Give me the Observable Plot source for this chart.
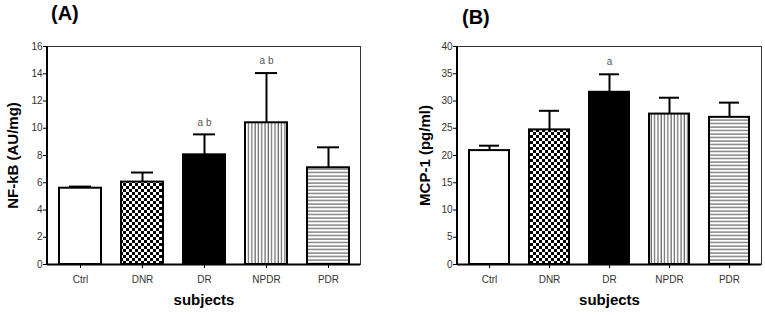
<!DOCTYPE html>
<html>
<head>
<meta charset="utf-8">
<script src="https://cdn.jsdelivr.net/npm/d3@7"></script>
<script src="https://cdn.jsdelivr.net/npm/@observablehq/plot@0.6"></script>
<style>
  body { margin: 0; background: #fff; }
  #wrap { position: relative; width: 765px; height: 315px; font-family: "Liberation Sans", Arial, sans-serif; }
  .panel { position: absolute; top: 0; z-index: 0; }
  .title { position: absolute; z-index: 2; font-weight: bold; font-size: 20px; font-family: "Liberation Sans", Arial, sans-serif; }
  svg g[aria-label="y-axis label"] text { font-weight: bold; font-size: 15px; fill: #000; }
  svg g[aria-label="x-axis label"] text { font-weight: bold; font-size: 15px; fill: #000; }
  svg g[aria-label="y-axis tick label"] text, svg g[aria-label="x-axis tick label"] text { fill: #333; }
</style>
</head>
<body>
<div id="wrap">
  <div class="title" style="left:51px; top:2px;">(A)</div>
  <div class="title" style="left:462px; top:6px;">(B)</div>
</div>
<script>
const categories = ["Ctrl", "DNR", "DR", "NPDR", "PDR"];
const fills = ["white", "checker", "black", "vlines", "hlines"];

const nfkbMean = [5.6, 6.05, 8.05, 10.4, 7.1];
const nfkbErr  = [0.12, 0.7, 1.5, 3.65, 1.5];
const nfkbSig  = ["", "", "a b", "a b", ""];
const nfkbTicks = [0, 2, 4, 6, 8, 10, 12, 14, 16];

const mcpMean = [20.9, 24.7, 31.6, 27.6, 27.0];
const mcpErr  = [0.9, 3.5, 3.3, 3.0, 2.7];
const mcpSig  = ["", "", "a", "", ""];
const mcpTicks = [0, 5, 10, 15, 20, 25, 30, 35, 40];

function addPatterns(svg, pre) {
  const defs = d3.select(svg).insert("defs", ":first-child");
  const c = defs.append("pattern").attr("id", pre + "checker").attr("patternUnits", "userSpaceOnUse")
    .attr("width", 6).attr("height", 6);
  c.append("rect").attr("width", 6).attr("height", 6).attr("fill", "white");
  c.append("rect").attr("width", 3).attr("height", 3).attr("fill", "black");
  c.append("rect").attr("x", 3).attr("y", 3).attr("width", 3).attr("height", 3).attr("fill", "black");
  const v = defs.append("pattern").attr("id", pre + "vlines").attr("patternUnits", "userSpaceOnUse")
    .attr("width", 3.3).attr("height", 10);
  v.append("rect").attr("width", 3.3).attr("height", 10).attr("fill", "white");
  v.append("line").attr("x1", 1).attr("x2", 1).attr("y1", 0).attr("y2", 10).attr("stroke", "#333").attr("stroke-width", 0.9);
  const h = defs.append("pattern").attr("id", pre + "hlines").attr("patternUnits", "userSpaceOnUse")
    .attr("width", 10).attr("height", 3.5);
  h.append("rect").attr("width", 10).attr("height", 3.5).attr("fill", "white");
  h.append("line").attr("y1", 1).attr("y2", 1).attr("x1", 0).attr("x2", 10).attr("stroke", "#333").attr("stroke-width", 0.9);
}

function panel(pre, means, errs, sigs, ticks, ylabel, opts) {
  const data = categories.map((c, i) => ({
    cat: c, mean: means[i], top: means[i] + errs[i], sig: sigs[i],
    fill: (fills[i] === "white" || fills[i] === "black") ? fills[i] : `url(#${pre}${fills[i]})`
  }));
  const chart = Plot.plot({
    width: 382, height: 315,
    marginTop: 46, marginBottom: 51, marginLeft: opts.ml, marginRight: opts.mr,
    style: { fontFamily: "Liberation Sans, Arial, sans-serif", fontSize: "10px", background: "transparent" },
    x: { domain: categories, paddingInner: 0.33, paddingOuter: 0.17, label: null },
    y: { domain: [0, ticks[ticks.length - 1]], label: null },
    marks: [
      Plot.frame({ stroke: "#333", strokeWidth: 1 }),
      Plot.ruleX(data, { x: "cat", y1: "mean", y2: "top", stroke: "black", strokeWidth: 2 }),
      Plot.tickY(data, { x: "cat", y: "top", stroke: "black", strokeWidth: 2, insetLeft: 10, insetRight: 10 }),
      Plot.barY(data, { x: "cat", y: "mean", fill: "fill", stroke: "black", strokeWidth: 2 }),
      Plot.text(data, { x: "cat", y: "top", text: "sig", dy: -12, fill: "#555", fontSize: 10 }),
      Plot.ruleY([0], { stroke: "black", strokeWidth: 2 }),
      Plot.axisY({ ticks: ticks, tickSize: 4, tickPadding: 1, label: ylabel, labelAnchor: "center", labelOffset: opts.lo, labelArrow: "none" }),
      Plot.axisX({ tickSize: 4, tickPadding: 7, label: "subjects", labelAnchor: "center", labelOffset: 40, labelArrow: "none" })
    ]
  });
  chart.classList.add("panel");
  chart.style.left = opts.left + "px";
  addPatterns(chart, pre);
  const yr = chart.scale("y").range;
  d3.select(chart).append("line")
    .attr("x1", opts.ml).attr("x2", opts.ml).attr("y1", yr[0] + 1).attr("y2", yr[1])
    .attr("stroke", "black").attr("stroke-width", 2);
  document.getElementById("wrap").appendChild(chart);
}

panel("a-", nfkbMean, nfkbErr, nfkbSig, nfkbTicks, "NF-kB (AU/mg)", { left: 0, ml: 47, mr: 22, lo: 40 });
panel("b-", mcpMean, mcpErr, mcpSig, mcpTicks, "MCP-1 (pg/ml)", { left: 383, ml: 74, mr: 4, lo: 38 });
</script>
</body>
</html>
